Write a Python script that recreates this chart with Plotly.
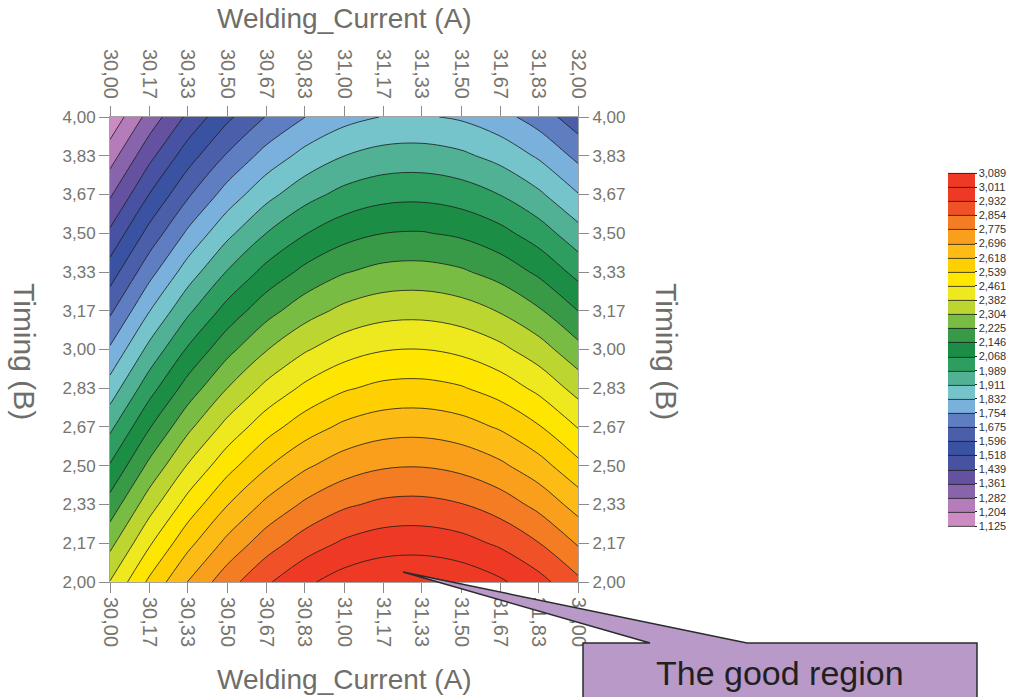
import numpy as np
import plotly.graph_objects as go

# ---- data ----
current_grid = [30.0, 30.1667, 30.3333, 30.5, 30.6667, 30.8333, 31.0,
                31.1667, 31.3333, 31.5, 31.6667, 31.8333, 32.0]
current_labels = ["30,00", "30,17", "30,33", "30,50", "30,67", "30,83", "31,00",
                  "31,17", "31,33", "31,50", "31,67", "31,83", "32,00"]
timing_grid = [2.0, 2.1667, 2.3333, 2.5, 2.6667, 2.8333, 3.0,
               3.1667, 3.3333, 3.5, 3.6667, 3.8333, 4.0]
timing_labels = ["2,00", "2,17", "2,33", "2,50", "2,67", "2,83", "3,00",
                 "3,17", "3,33", "3,50", "3,67", "3,83", "4,00"]
# response on the ridge (best current) for each timing value
ridge_by_timing = [3.083, 2.979, 2.876, 2.772, 2.669, 2.565, 2.462,
                   2.358, 2.255, 2.152, 2.048, 1.945, 1.841]
# drop of the response away from the ridge for each current value
falloff_by_current = [0.698, 0.530, 0.384, 0.262, 0.163, 0.088, 0.035,
                      0.006, 0.001, 0.019, 0.060, 0.124, 0.212]
levels = [1.125, 1.204, 1.282, 1.361, 1.439, 1.518, 1.596, 1.675, 1.754,
          1.832, 1.911, 1.989, 2.068, 2.146, 2.225, 2.304, 2.382, 2.461,
          2.539, 2.618, 2.696, 2.775, 2.854, 2.932, 3.011, 3.089]
level_labels = ["1,125", "1,204", "1,282", "1,361", "1,439", "1,518", "1,596",
                "1,675", "1,754", "1,832", "1,911", "1,989", "2,068", "2,146",
                "2,225", "2,304", "2,382", "2,461", "2,539", "2,618", "2,696",
                "2,775", "2,854", "2,932", "3,011", "3,089"]
band_colors = ["#CC8CC3", "#A574B4", "#7C5DA9", "#5E4F9F", "#4553A4", "#3A52A2",
               "#4A5DA9", "#5B78BE", "#78A9DC", "#7FC9DA", "#5DB8A7", "#3BA573",
               "#1F9549", "#198742", "#4AA548", "#8CC542", "#C9D92B", "#F3EB1D",
               "#FFE600", "#FFD100", "#FDBE15", "#FAA51B", "#F58820", "#F15E29",
               "#EE3A24"]

# table for the library
z = np.subtract.outer(np.array(ridge_by_timing), np.array(falloff_by_current))

nc = len(levels)
cs_size = (levels[-1] - levels[0]) / (nc - 1)
scale_cols = [band_colors[0]] + band_colors + [band_colors[-1]]
colorscale = [[k / nc, col] for k, col in enumerate(scale_cols)]

W, H = 1015, 697
L, R, T, B = 110, 578, 117, 582
def px(xp):
    return (xp - L) / (R - L)
def py(yp):
    return (B - yp) / (B - T)

gray = "#77756d"
def axis_style(fsize):
    return dict(showgrid=False, zeroline=False, showline=True, linecolor="#a3a3a3",
                linewidth=1, ticks="outside", ticklen=10, tickcolor="#8a8a8a",
                tickfont=dict(family="Liberation Sans, Arial", size=fsize, color=gray),
                mirror=False, automargin=False)

fig = go.Figure()
fig.add_trace(go.Contour(
    x=current_grid, y=timing_grid, z=z,
    zmin=levels[0], zmax=levels[-1], zauto=False,
    autocontour=False,
    contours=dict(start=levels[0], end=levels[-1], size=cs_size, coloring="fill",
                  showlines=True),
    line=dict(color="#1a1a1a", width=0.8, smoothing=1),
    colorscale=colorscale,
    colorbar=dict(x=px(948), xanchor="left", xref="paper", y=0.5, yanchor="middle",
                  len=(526 - 173) / (B - T), lenmode="fraction", thickness=27,
                  outlinewidth=0, tickvals=levels, ticktext=level_labels,
                  ticks="outside", ticklen=2, tickcolor="#222",
                  tickfont=dict(family="Liberation Sans, Arial", size=11, color="#333"),
                  ypad=0, xpad=0),
    hoverinfo="skip",
))
fig.add_trace(go.Scatter(x=current_grid, y=timing_grid, xaxis="x2", yaxis="y2",
                         mode="markers", marker=dict(opacity=0), hoverinfo="skip",
                         showlegend=False))

fig.update_layout(
    width=W, height=H,
    margin=dict(l=L, r=W - R, t=T, b=H - B, autoexpand=False),
    paper_bgcolor="white", plot_bgcolor="white",
    showlegend=False,
    xaxis=dict(range=[current_grid[0], current_grid[-1]], tickmode="array",
               tickvals=current_grid, ticktext=current_labels, tickangle=90, **axis_style(20)),
    xaxis2=dict(range=[current_grid[0], current_grid[-1]], tickmode="array",
                tickvals=current_grid, ticktext=current_labels, tickangle=90,
                overlaying="x", side="top", anchor="y", **axis_style(20)),
    yaxis=dict(range=[timing_grid[0], timing_grid[-1]], tickmode="array",
               tickvals=timing_grid, ticktext=timing_labels, **axis_style(17)),
    yaxis2=dict(range=[timing_grid[0], timing_grid[-1]], tickmode="array",
                tickvals=timing_grid, ticktext=timing_labels, overlaying="y",
                side="right", anchor="x", **axis_style(17)),
)

for (xx, yy, txt, ang, fs) in [(px(344), py(18), "Welding_Current (A)", 0, 28),
                               (px(344), py(679), "Welding_Current (A)", 0, 28),
                               (px(25), py(351), "Timing (B)", 90, 30),
                               (px(667), py(351), "Timing (B)", 90, 30)]:
    fig.add_annotation(x=xx, y=yy, xref="paper", yref="paper", text=txt,
                       textangle=ang, showarrow=False,
                       font=dict(family="Liberation Sans, Arial", size=fs, color="#6f6e68"),
                       xanchor="center", yanchor="middle")

# callout bubble
pts = [(583, 643), (650, 643), (403, 572), (747, 643), (977, 643), (977, 705), (583, 705)]
path = "M " + " L ".join(f"{px(a):.5f},{py(b):.5f}" for a, b in pts) + " Z"
fig.add_shape(type="path", path=path, xref="paper", yref="paper",
              fillcolor="#B899C8", line=dict(color="#2b2b2b", width=1.5), layer="above")
fig.add_annotation(x=px(780), y=py(673), xref="paper", yref="paper",
                   text="The good region", showarrow=False,
                   font=dict(family="Liberation Sans, Arial", size=34, color="#231f20"),
                   xanchor="center", yanchor="middle")

fig.write_html("out.html", config={"displayModeBar": False},
               post_script="document.body.style.margin='0px';"
                           "document.body.style.overflow='hidden';")
